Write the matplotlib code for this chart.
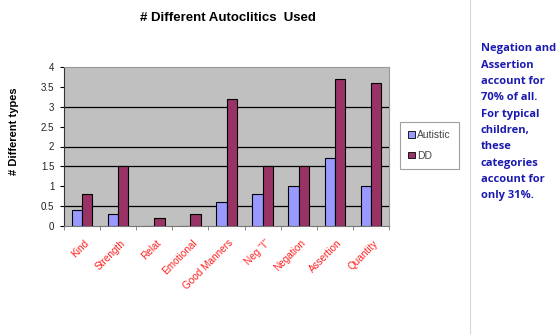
import matplotlib
matplotlib.use("Agg")
import matplotlib.pyplot as plt
import numpy as np
from matplotlib.lines import Line2D
from matplotlib.patches import Patch

categories = ["Kind", "Strength", "Relat", "Emotional", "Good Manners", 'Neg "I"',
              "Negation", "Assertion", "Quantity"]
autistic = [0.4, 0.3, 0.0, 0.0, 0.6, 0.8, 1.0, 1.7, 1.0]
dd = [0.8, 1.5, 0.2, 0.3, 3.2, 1.5, 1.5, 3.7, 3.6]
series_names = ["Autistic", "DD"]
yticks = [0, 0.5, 1, 1.5, 2, 2.5, 3, 3.5, 4]
ytick_labels = ["0", "0.5", "1", "1.5", "2", "2.5", "3", "3.5", "4"]
grid_values = [0.5, 1.5, 2, 3]
note_lines = ["Negation and", "Assertion", "account for", "70% of all.", "For typical",
              "children,", "these", "categories", "account for", "only 31%."]

W, H = 560, 334
fig = plt.figure(figsize=(W / 100, H / 100), dpi=100)
fig.patch.set_facecolor("white")

left, right, top, bottom = 64, 389, 67, 226
ax = fig.add_axes([left / W, 1 - bottom / H, (right - left) / W, (bottom - top) / H])
ax.set_facecolor("#C0C0C0")

x = np.arange(len(categories))
w = 0.285
ax.bar(x - w / 2, autistic, w, color="#9999FF", edgecolor="black", linewidth=0.8, zorder=3)
ax.bar(x + w / 2, dd, w, color="#993366", edgecolor="black", linewidth=0.8, zorder=3)

for g in grid_values:
    ax.axhline(g, color="black", linewidth=0.9, zorder=1)

ax.set_xlim(-0.5, len(categories) - 0.5)
ax.set_ylim(0, 4)
ax.set_yticks(yticks)
ax.set_yticklabels(ytick_labels, fontsize=7, family="Liberation Sans", color="#222222")
ax.set_xticks(np.arange(len(categories) + 1) - 0.5, minor=False)
ax.set_xticklabels([])
ax.tick_params(axis="x", length=3, width=0.6, color="#777777")
ax.tick_params(axis="y", length=3, width=0.8, pad=4)

for i, c in enumerate(categories):
    ax.text(i + 0.05, -0.3, c, rotation=45, ha="right", va="top", color="#FF2020",
            fontsize=7.2, family="Liberation Sans", rotation_mode="anchor")

for s in ["top", "right"]:
    ax.spines[s].set_color("#999999")
    ax.spines[s].set_linewidth(0.8)
ax.spines["left"].set_color("#333333")
ax.spines["bottom"].set_color("#777777")

fig.text(14 / W, 1 - 131 / H, "# Different types", rotation=90, ha="center", va="center",
         fontsize=8, fontweight="bold", family="Liberation Sans")

fig.text(228 / W, 1 - 18 / H, "# Different Autoclitics  Used", ha="center", va="center",
         fontsize=9.5, fontweight="bold", family="Liberation Sans")

handles = [Patch(facecolor="#9999FF", edgecolor="black", linewidth=0.6),
           Patch(facecolor="#993366", edgecolor="black", linewidth=0.6)]
leg = fig.legend(handles, series_names, loc="upper left",
                 bbox_to_anchor=(400 / W, 1 - 122 / H),
                 prop={"family": "Liberation Sans", "size": 7.5},
                 handlelength=0.6, handleheight=0.6, handletextpad=0.2,
                 borderpad=0.8, labelspacing=1.0, borderaxespad=0.0,
                 fancybox=False, frameon=True)
leg.get_frame().set_edgecolor("#888888")
leg.get_frame().set_linewidth(0.8)
for t in leg.get_texts():
    t.set_color("#444444")

fig.add_artist(Line2D([470 / W, 470 / W], [0, 1], color="#D8D8D8", linewidth=0.8))

for i, line in enumerate(note_lines):
    fig.text(481 / W, 1 - (49 + i * 16.3) / H, line, ha="left", va="center",
             fontsize=8, fontweight="bold", family="Open Sans", color="#1A1AB0")

fig.savefig("out.png", dpi=100)
